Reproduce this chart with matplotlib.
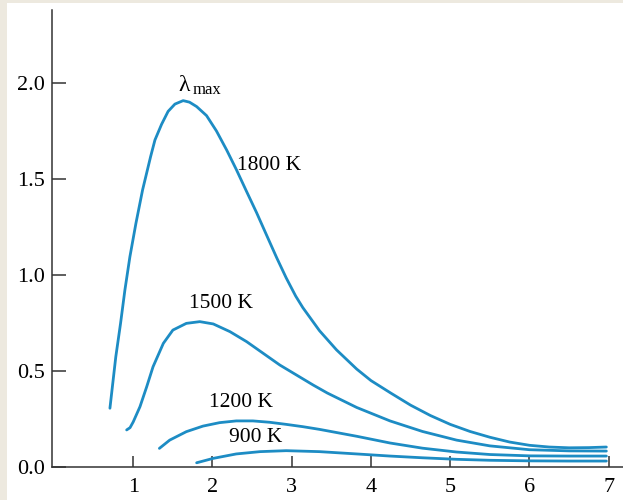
import matplotlib
matplotlib.use("Agg")
import matplotlib.pyplot as plt
from matplotlib.patches import Rectangle

plt.rcParams['font.family'] = ['Liberation Serif', 'DejaVu Serif']

# curves (wavelength, intensity)
x1800 = [0.706, 0.78, 0.84, 0.895, 0.958, 1.034, 1.118, 1.219, 1.274, 1.358, 1.44, 1.526, 1.63, 1.71,
         1.80, 1.925, 2.05, 2.18, 2.30, 2.43, 2.556, 2.68, 2.81, 2.93, 3.05, 3.14, 3.35, 3.565, 3.82,
         4.0, 4.25, 4.5, 4.75, 5.0, 5.25, 5.5, 5.75, 6.0, 6.25, 6.5, 6.75, 6.97]
y1800 = [0.306, 0.574, 0.748, 0.922, 1.095, 1.269, 1.443, 1.616, 1.703, 1.785, 1.852, 1.89, 1.908, 1.90,
         1.877, 1.83, 1.75, 1.65, 1.55, 1.435, 1.325, 1.21, 1.09, 0.985, 0.89, 0.83, 0.71, 0.61, 0.51,
         0.45, 0.385, 0.322, 0.268, 0.222, 0.185, 0.155, 0.13, 0.113, 0.104, 0.100, 0.101, 0.104]

x1500 = [0.917, 0.96, 1.0, 1.085, 1.17, 1.25, 1.38, 1.50, 1.67, 1.84, 2.01, 2.22, 2.43, 2.64, 2.85,
         3.06, 3.27, 3.45, 3.82, 4.24, 4.65, 5.08, 5.50, 6.0, 6.5, 6.97]
y1500 = [0.193, 0.205, 0.235, 0.314, 0.418, 0.522, 0.644, 0.713, 0.748, 0.757, 0.745, 0.705, 0.653, 0.592, 0.531,
         0.479, 0.427, 0.385, 0.31, 0.24, 0.185, 0.14, 0.11, 0.09, 0.084, 0.083]

x1200 = [1.33, 1.46, 1.67, 1.88, 2.09, 2.30, 2.51, 2.72, 2.93, 3.14, 3.35, 3.82, 4.24, 4.65,
         5.08, 5.50, 6.0, 6.5, 6.97]
y1200 = [0.097, 0.14, 0.184, 0.213, 0.231, 0.24, 0.24, 0.233, 0.222, 0.21, 0.196, 0.16, 0.125, 0.098,
         0.078, 0.065, 0.058, 0.057, 0.057]

x900 = [1.80, 2.01, 2.30, 2.60, 2.93, 3.35, 3.82, 4.24, 4.65, 5.08, 5.50, 6.0, 6.5, 6.97]
y900 = [0.022, 0.045, 0.068, 0.08, 0.085, 0.08, 0.068, 0.057, 0.048, 0.04, 0.035, 0.032, 0.031, 0.031]

xticks = [1, 2, 3, 4, 5, 6, 7]
yticks = [0.0, 0.5, 1.0, 1.5, 2.0]
ytick_labels = ['0.0', '0.5', '1.0', '1.5', '2.0']

color = '#1d8cc4'

fig = plt.figure(figsize=(6.23, 5.0), dpi=100, facecolor='#ede9df')
fig.add_artist(Rectangle((7 / 623, 0), 1, 497 / 500, transform=fig.transFigure,
                         facecolor='white', edgecolor='none', zorder=-1))
ax = fig.add_axes([52 / 623, 33 / 500, 571 / 623, 457 / 500])
ax.set_facecolor('none')

for xs, ys in [(x1800, y1800), (x1500, y1500), (x1200, y1200), (x900, y900)]:
    ax.plot(xs, ys, color=color, lw=2.0, solid_capstyle='round', solid_joinstyle='round')

ax.text(2.72, 1.57, '1800 K', fontsize=15.5, ha='center', va='center')
ax.text(2.11, 0.85, '1500 K', fontsize=15.5, ha='center', va='center')
ax.text(2.36, 0.338, '1200 K', fontsize=15.5, ha='center', va='center')
ax.text(2.55, 0.156, '900 K', fontsize=15.5, ha='center', va='center')
# lambda_max over the peak of the 1800 K curve
ax.text(1.57, 1.96, 'λ', fontsize=17, ha='left', va='baseline')
ax.text(1.745, 1.94, 'max', fontsize=12, ha='left', va='baseline')

ax.set_xlim(-0.025, 7.18)
ax.set_ylim(0, 2.38)
ax.set_xticks(xticks)
ax.set_yticks(yticks)
ax.set_yticklabels(ytick_labels)

for s in ['top', 'right']:
    ax.spines[s].set_visible(False)
for s in ['left', 'bottom']:
    ax.spines[s].set_color('#333333')
    ax.spines[s].set_linewidth(1.1)

ax.tick_params(axis='y', direction='in', length=10, width=1.1, color='#333333', pad=5, labelsize=16)
ax.tick_params(axis='x', direction='in', length=8, width=1.1, color='#333333', pad=8, labelsize=16)

fig.savefig('out.png', dpi=100, facecolor=fig.get_facecolor())
